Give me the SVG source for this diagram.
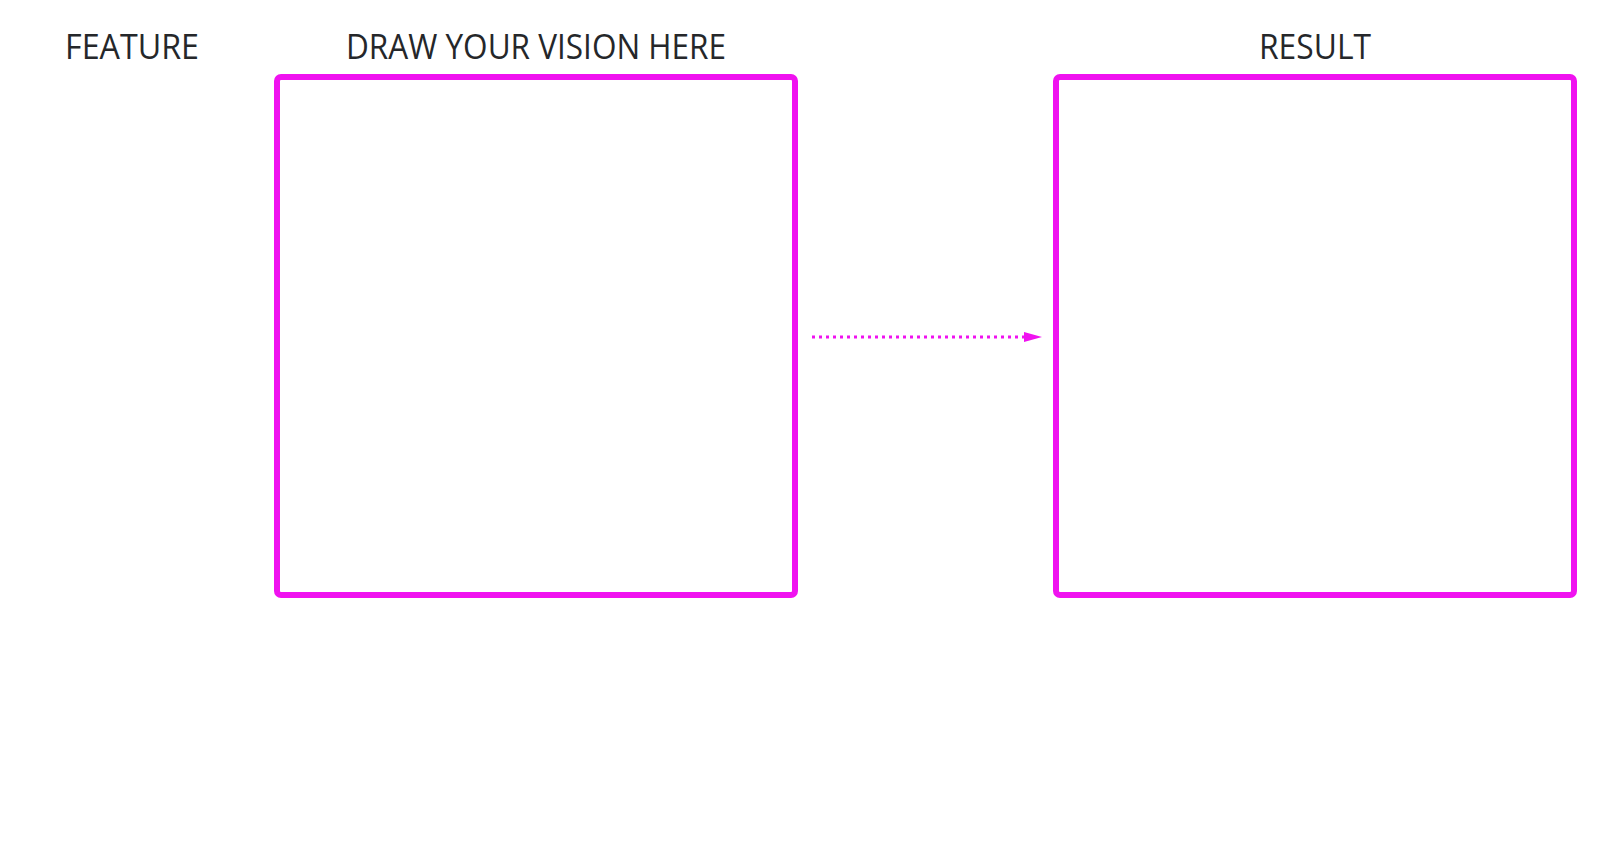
<svg xmlns="http://www.w3.org/2000/svg" width="1600" height="852" viewBox="0 0 1600 852">
<style>
.title{font-family:"Source Sans Pro","Open Sans","Liberation Sans",sans-serif;font-size:34px;fill:#25272a;text-anchor:middle}
.frame{fill:none;stroke:#f012f0;stroke-width:6}
.conn{fill:none;stroke:#f012f0;stroke-width:3;stroke-dasharray:3 4}
</style>
<defs>
<marker id="arr" viewBox="0 0 18 11" refX="0" refY="5.5" markerWidth="18" markerHeight="11" markerUnits="userSpaceOnUse" orient="auto">
<path d="M0,0.5 L18,5.5 L0,10.5 Z" fill="#f012f0"/>
</marker>
</defs>
<rect width="1600" height="852" fill="#ffffff"/>
<g id="feature-label">
<text class="title" x="132" y="59" textLength="134" lengthAdjust="spacingAndGlyphs">FEATURE</text>
</g>
<g id="vision">
<text class="title" x="536" y="59" textLength="380" lengthAdjust="spacingAndGlyphs">DRAW YOUR VISION HERE</text>
<rect class="frame" x="277" y="77" width="518" height="518" rx="4"/>
</g>
<g id="result">
<text class="title" x="1315" y="59" textLength="112" lengthAdjust="spacingAndGlyphs">RESULT</text>
<rect class="frame" x="1056" y="77" width="518" height="518" rx="4"/>
</g>
<g id="connectors">
<line class="conn" x1="812" y1="337" x2="1024" y2="337" marker-end="url(#arr)"/>
</g>
</svg>
